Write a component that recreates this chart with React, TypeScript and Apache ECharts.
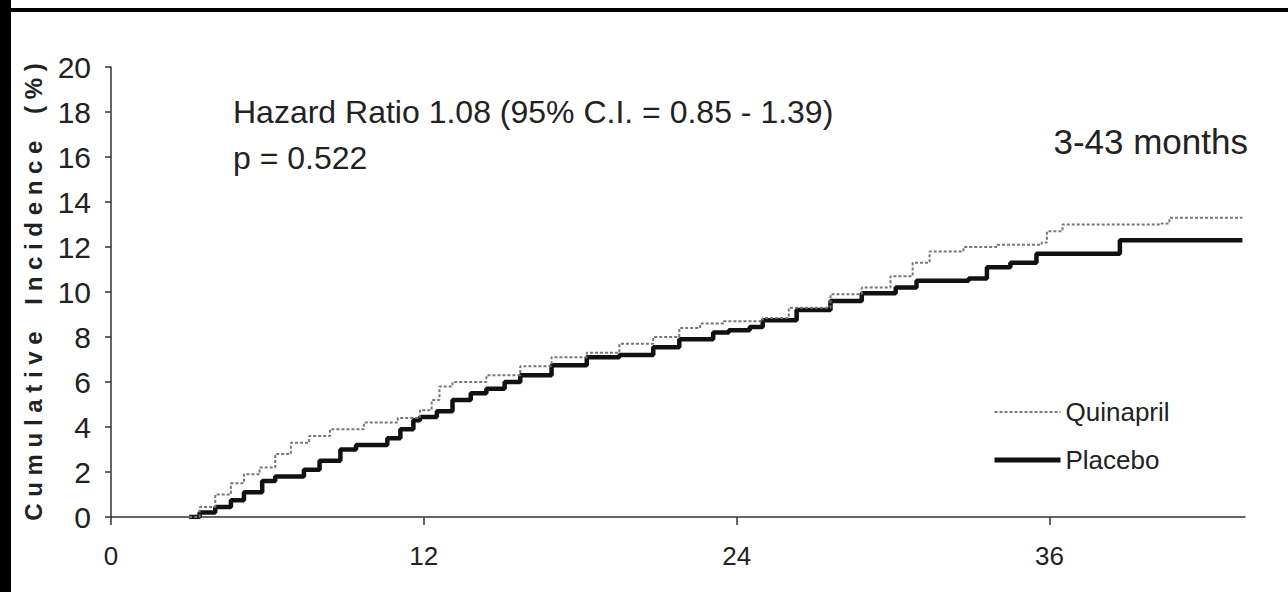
import React, { useEffect, useRef } from "react";
import * as echarts from "echarts";

// ---- data (months, cumulative incidence %) ----
const quinaprilMonths = [3.0, 3.4, 4.0, 4.6, 5.1, 5.7, 6.3, 6.9, 7.6, 8.4, 9.7, 11.0, 11.85, 12.3, 12.6, 13.1, 14.4, 15.7, 16.9, 18.25, 19.5, 20.8, 21.8, 22.6, 23.5, 25.0, 26.0, 27.6, 28.8, 29.9, 30.75, 31.4, 32.7, 34.0, 35.7, 35.9, 36.5, 40.3, 40.6, 43.4];
const quinaprilValues = [0, 0.45, 1.0, 1.5, 1.9, 2.2, 2.8, 3.3, 3.6, 3.9, 4.2, 4.4, 4.75, 5.2, 5.8, 6.0, 6.3, 6.7, 7.1, 7.3, 7.7, 8.0, 8.4, 8.6, 8.7, 8.85, 9.3, 9.9, 10.2, 10.7, 11.3, 11.8, 12.0, 12.1, 12.2, 12.7, 13.0, 13.05, 13.3, 13.3];
const placeboMonths = [3.0, 3.4, 4.0, 4.6, 5.1, 5.8, 6.3, 6.9, 7.4, 8.0, 8.8, 9.4, 10.0, 10.6, 11.1, 11.6, 11.85, 12.5, 13.1, 13.8, 14.4, 15.1, 15.7, 16.9, 18.25, 19.5, 20.8, 21.8, 23.1, 23.7, 24.5, 25.0, 26.3, 27.6, 28.8, 30.1, 30.9, 32.1, 32.9, 33.6, 34.5, 35.5, 38.2, 38.7, 43.4];
const placeboValues = [0, 0.2, 0.45, 0.75, 1.1, 1.6, 1.8, 1.8, 2.1, 2.5, 3.0, 3.2, 3.2, 3.5, 3.9, 4.3, 4.45, 4.7, 5.2, 5.5, 5.7, 6.0, 6.3, 6.75, 7.1, 7.2, 7.55, 7.9, 8.2, 8.3, 8.45, 8.75, 9.2, 9.6, 9.95, 10.2, 10.5, 10.5, 10.6, 11.1, 11.3, 11.7, 11.7, 12.3, 12.3];

const seriesNames = ["Quinapril", "Placebo"];
const xTickValues = [0, 12, 24, 36];
const xMin = 0;
const xMax = 43.5;
const yMin = 0;
const yMax = 20;
const yInterval = 2;

const hazardText = "Hazard Ratio 1.08 (95% C.I. = 0.85 - 1.39)";
const pText = "p = 0.522";
const periodText = "3-43 months";
const yAxisTitle = "Cumulative Incidence (%)";

const FONT = "'Liberation Sans', Arial, Helvetica, sans-serif";
const NARROW = "'Liberation Sans Narrow', 'Liberation Sans', Arial, sans-serif";
const TEXT = "#222";
const QUIN_COLOR = "#777";
const PLAC_COLOR = "#111";

function zip(xs: number[], ys: number[]) {
  return xs.map((x, i) => [x, ys[i]]);
}

function spaced(s: string) {
  return s
    .split(" ")
    .map((w) => w.split("").join(" "))
    .join("    ");
}

export default function App() {
  const ref = useRef<HTMLDivElement>(null);

  useEffect(() => {
    if (!ref.current) return;
    const chart = echarts.init(ref.current, undefined, { renderer: "svg" });
    chart.setOption({
      animation: false,
      backgroundColor: "#ffffff",
      grid: { left: 111, top: 67, width: 1134, height: 450, containLabel: false },
      legend: {
        orient: "vertical",
        left: 992,
        top: 398,
        padding: 0,
        itemWidth: 66,
        itemHeight: 14,
        itemGap: 20,
        itemStyle: { opacity: 0 },
        data: [
          { name: seriesNames[0], itemStyle: { opacity: 0 }, lineStyle: { color: QUIN_COLOR, width: 2, type: [3, 2] } },
          { name: seriesNames[1], itemStyle: { opacity: 0 }, lineStyle: { color: PLAC_COLOR, width: 5 } },
        ],
        textStyle: { fontSize: 26, color: TEXT, fontFamily: NARROW, lineHeight: 28 },
      },
      xAxis: {
        type: "value",
        min: xMin,
        max: xMax,
        interval: 12,
        splitLine: { show: false },
        axisLine: { show: true, lineStyle: { color: "#333", width: 1.5 } },
        axisTick: { show: true, length: 8, customValues: xTickValues, lineStyle: { color: "#333", width: 1.5 } },
        axisLabel: {
          customValues: xTickValues,
          margin: 26,
          fontSize: 26,
          color: TEXT,
          fontFamily: NARROW,
        },
      },
      yAxis: {
        type: "value",
        min: yMin,
        max: yMax,
        interval: yInterval,
        name: spaced(yAxisTitle),
        nameLocation: "middle",
        nameRotate: 90,
        nameGap: 66,
        nameTextStyle: { fontSize: 24, fontWeight: "bold", color: TEXT, fontFamily: FONT },
        splitLine: { show: false },
        axisLine: { show: true, lineStyle: { color: "#333", width: 1.5 } },
        axisTick: { show: true, length: 6, lineStyle: { color: "#333", width: 1.5 } },
        axisLabel: { margin: 20, fontSize: 30, color: TEXT, fontFamily: FONT },
      },
      series: [
        {
          name: seriesNames[1],
          type: "line",
          step: "end",
          symbol: "none",
          showSymbol: false,
          data: zip(placeboMonths, placeboValues),
          lineStyle: { color: PLAC_COLOR, width: 4.5 },
          itemStyle: { color: PLAC_COLOR },
          z: 2,
        },
        {
          name: seriesNames[0],
          type: "line",
          step: "end",
          symbol: "none",
          showSymbol: false,
          data: zip(quinaprilMonths, quinaprilValues),
          lineStyle: { color: QUIN_COLOR, width: 2, type: [3, 2] },
          itemStyle: { color: QUIN_COLOR },
          z: 3,
        },
      ],
      graphic: [
        { type: "rect", left: 0, top: 8, shape: { width: 1288, height: 4 }, style: { fill: "#000" }, silent: true },
        { type: "rect", left: 0, top: 0, shape: { width: 11, height: 592 }, style: { fill: "#000" }, silent: true },
        {
          type: "text",
          x: 233,
          y: 112,
          style: { text: hazardText, fontSize: 32, fontFamily: FONT, fill: TEXT, verticalAlign: "middle", align: "left" },
        },
        {
          type: "text",
          x: 233,
          y: 158,
          style: { text: pText, fontSize: 32, fontFamily: FONT, fill: TEXT, verticalAlign: "middle", align: "left" },
        },
        {
          type: "text",
          x: 1248,
          y: 141,
          style: { text: periodText, fontSize: 35, fontFamily: FONT, fill: TEXT, verticalAlign: "middle", align: "right" },
        },
      ],
    });
    return () => chart.dispose();
  }, []);

  return (
    <div
      ref={ref}
      style={{ position: "absolute", left: 0, top: 0, width: 1288, height: 592, background: "#fff" }}
    />
  );
}
